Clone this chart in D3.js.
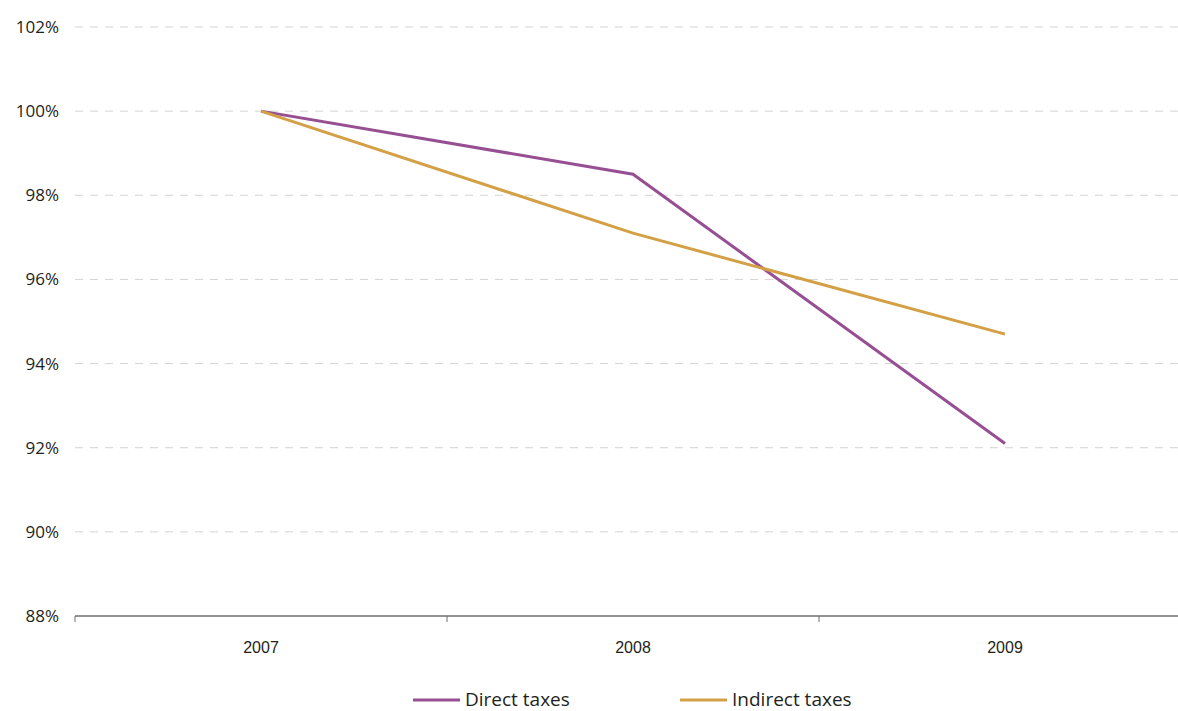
<!DOCTYPE html>
<html>
<head>
<meta charset="utf-8">
<script src="https://cdn.jsdelivr.net/npm/d3@7"></script>
<style>
  body { margin: 0; background: #fff; }
  svg { font-family: "Open Sans", "Noto Sans", sans-serif; }
</style>
</head>
<body>
<svg width="1178" height="711"></svg>
<script>
// data
const years = ['2007', '2008', '2009'];
const directTaxes = [100, 98.5, 92.1];
const indirectTaxes = [100, 97.1, 94.7];
const yTicks = [88, 90, 92, 94, 96, 98, 100, 102];
const seriesNames = ['Direct taxes', 'Indirect taxes'];
const seriesColors = ['#974f94', '#d4a046'];

const svg = d3.select('svg');

const x = d3.scaleBand().domain(years).range([75, 1191]);
const y = d3.scaleLinear().domain([88, 102]).range([616, 27]);

// grid lines
svg.append('g')
    .selectAll('line')
    .data(yTicks.filter(d => d !== 88))
    .enter()
    .append('line')
    .attr('x1', 75)
    .attr('x2', 1178)
    .attr('y1', d => y(d))
    .attr('y2', d => y(d))
    .style('stroke', '#d4d4d4')
    .style('stroke-width', 1)
    .style('stroke-dasharray', '8,7');

// y labels
svg.append('g')
    .selectAll('text')
    .data(yTicks)
    .enter()
    .append('text')
    .attr('x', 59)
    .attr('y', d => y(d))
    .attr('dy', '0.35em')
    .style('text-anchor', 'end')
    .style('font-size', '17px')
    .style('fill', '#231f20')
    .text(d => d + '%');

// x axis
const xAxis = svg.append('g')
    .attr('transform', `translate(0, ${y(88)})`)
    .call(d3.axisBottom(x).tickSize(0).tickPadding(0).tickFormat(''));
xAxis.select('.domain').remove();
xAxis.append('line')
    .attr('x1', 75).attr('x2', 1178)
    .style('stroke', '#6d6e71').style('stroke-width', 1.5);
xAxis.selectAll('line.sep')
    .data(years)
    .enter()
    .append('line')
    .attr('class', 'sep')
    .attr('x1', d => x(d)).attr('x2', d => x(d))
    .attr('y1', 0).attr('y2', 6)
    .style('stroke', '#6d6e71').style('stroke-width', 1);
xAxis.selectAll('text.yr')
    .data(years)
    .enter()
    .append('text')
    .attr('class', 'yr')
    .attr('x', d => x(d) + x.bandwidth() / 2)
    .attr('y', 37)
    .style('text-anchor', 'middle')
    .style('font-size', '16px')
    .style('fill', '#231f20')
    .text(d => d);

// lines
const line = d3.line()
    .x((d, i) => x(years[i]) + x.bandwidth() / 2)
    .y(d => y(d));

svg.append('g')
    .selectAll('path')
    .data([directTaxes, indirectTaxes])
    .enter()
    .append('path')
    .attr('d', d => line(d))
    .style('fill', 'none')
    .style('stroke', (d, i) => seriesColors[i])
    .style('stroke-width', 3);

// legend
const legend = svg.append('g')
    .selectAll('g')
    .data(seriesNames)
    .enter()
    .append('g')
    .attr('transform', (d, i) => `translate(${413 + i * 267}, 699)`);
legend.append('line')
    .attr('x1', 0).attr('x2', 47)
    .attr('y1', 1).attr('y2', 1)
    .style('stroke', (d, i) => seriesColors[i])
    .style('stroke-width', 3);
legend.append('text')
    .attr('x', 52)
    .attr('dy', '0.35em')
    .style('font-size', '19px')
    .style('fill', '#231f20')
    .text(d => d);
</script>
</body>
</html>
